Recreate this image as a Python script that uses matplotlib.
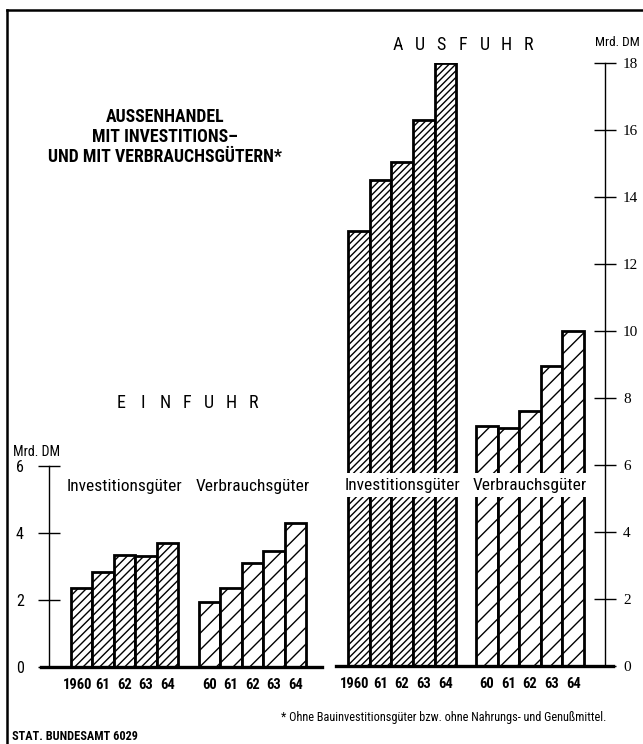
import matplotlib
matplotlib.use("Agg")
import matplotlib.pyplot as plt
from matplotlib import font_manager as fm
from matplotlib.transforms import ScaledTranslation
import numpy as np

# Werte (Mrd. DM)
einfuhr_invest = [2.35, 2.85, 3.35, 3.3, 3.7]
einfuhr_verbrauch = [1.95, 2.35, 3.1, 3.45, 4.3]
ausfuhr_invest = [13.0, 14.5, 15.05, 16.3, 18.0]
ausfuhr_verbrauch = [7.15, 7.1, 7.6, 8.95, 10.0]

jahre_invest = ["1960", "61", "62", "63", "64"]
jahre_verbrauch = ["60", "61", "62", "63", "64"]
ticks_einfuhr = [0, 2, 4, 6]
ticks_ausfuhr = [0, 2, 4, 6, 8, 10, 12, 14, 16, 18]

# Schmale Schrift suchen, falls vorhanden
names = {f.name for f in fm.fontManager.ttflist}
narrow = next((n for n in ["Liberation Sans Narrow", "Roboto Condensed",
                           "Open Sans Condensed"] if n in names), "DejaVu Sans")
plt.rcParams["font.family"] = narrow
plt.rcParams["hatch.linewidth"] = 1.0

fig = plt.figure(figsize=(6.43, 7.44), dpi=100)
W, H = 643, 744


def box(x0, x1, y0, y1):
    # Pixelkoordinaten -> Figurenanteile
    return [x0 / W, 1 - y1 / H, (x1 - x0) / W, (y1 - y0) / H]


def setup(ax, ymax, spine_x, side):
    ax.set_ylim(0, ymax)
    for s in ["top", "left", "right"]:
        ax.spines[s].set_visible(False)
    ax.spines["bottom"].set_linewidth(2.4)
    ax.spines[side].set_visible(True)
    ax.spines[side].set_position(("data", spine_x))
    ax.spines[side].set_linewidth(1.0)
    ax.patch.set_alpha(0)


def bars(ax, start, vals, hatch, labels):
    x = start + 0.5 + np.arange(len(vals))
    ax.bar(x, vals, width=1.0, color="white", edgecolor="black",
           linewidth=2.0, hatch=hatch, zorder=2)
    return x, labels


def year_labels(ax, xs, labels):
    ax.set_xticks(xs)
    ax.set_xticklabels(labels, fontsize=10.5, fontweight="bold")
    ax.tick_params(axis="x", length=0, pad=8)
    # "1960" etwas nach links ruecken, wie in der Vorlage
    first = ax.get_xticklabels()[0]
    first.set_transform(first.get_transform() +
                        ScaledTranslation(-4 / 100, 0, fig.dpi_scale_trans))


def spaced(word, x0, x1, y, size=13):
    # Buchstaben gleichmaessig gesperrt setzen
    xs = np.linspace(x0, x1, len(word))
    for xc, ch in zip(xs, word):
        fig.text(xc / W, 1 - y / H, ch, ha="center", va="center", fontsize=size)


# ---- EINFUHR ----
axL = fig.add_axes(box(41, 322, 466, 667))
axL.set_xlim(0, 13.13)
setup(axL, 6, 0.37, "left")
x1, l1 = bars(axL, 1.4, einfuhr_invest, "////", jahre_invest)
x2, l2 = bars(axL, 7.38, einfuhr_verbrauch, "//", jahre_verbrauch)
year_labels(axL, list(x1) + list(x2), l1 + l2)
axL.set_yticks(ticks_einfuhr)
axL.tick_params(axis="y", direction="inout", length=16, width=1.0,
                labelsize=11.5, pad=10)
axL.text(x1.mean(), 5.4, "Investitionsgüter", ha="center", va="center",
         fontsize=12.5)
axL.text(x2.mean(), 5.4, "Verbrauchsgüter", ha="center", va="center",
         fontsize=12.5)

# ---- AUSFUHR ----
axR = fig.add_axes(box(336, 613, 63, 666))
axR.set_xlim(0, 12.82)
setup(axR, 18, 12.45, "right")
axR.yaxis.tick_right()
x3, l3 = bars(axR, 0.56, ausfuhr_invest, "/////", jahre_invest)
x4, l4 = bars(axR, 6.48, ausfuhr_verbrauch, "//", jahre_verbrauch)
year_labels(axR, list(x3) + list(x4), l3 + l4)
axR.set_yticks(ticks_ausfuhr)
axR.tick_params(axis="y", direction="inout", length=16, width=1.0,
                labelsize=11, pad=5)
for yl in axR.get_yticklabels():
    yl.set_family("Liberation Serif")
for xc, lab in [(x3.mean(), "Investitionsgüter"), (x4.mean(), "Verbrauchsgüter")]:
    axR.text(xc, 5.4, lab, ha="center", va="center", fontsize=12.5, zorder=5,
             bbox=dict(boxstyle="square,pad=0.25", fc="white", ec="none"))

# ---- Texte ----
fig.text(165 / W, 1 - 137 / H,
         "AUSSENHANDEL\nMIT INVESTITIONS–\nUND MIT VERBRAUCHSGÜTERN*",
         ha="center", va="center", fontsize=12.8, fontweight="bold",
         linespacing=1.15)
spaced("AUSFUHR", 398, 528, 45)
spaced("EINFUHR", 121, 253, 403)
fig.text(37 / W, 1 - 452 / H, "Mrd. DM", ha="center", va="center", fontsize=10)
fig.text(617 / W, 1 - 43 / H, "Mrd. DM", ha="center", va="center", fontsize=9.5)
fig.text(606 / W, 1 - 718 / H,
         "* Ohne Bauinvestitionsgüter bzw. ohne Nahrungs- und Genußmittel.",
         ha="right", va="center", fontsize=8.8)
fig.text(12 / W, 1 - 736 / H, "STAT. BUNDESAMT 6029", ha="left", va="center",
         fontsize=8.8, fontweight="bold")

# Rahmen oben und links
fig.add_artist(plt.Line2D([7 / W, 1], [1 - 10 / H] * 2, color="black", lw=1.8))
fig.add_artist(plt.Line2D([7 / W] * 2, [0, 1 - 10 / H], color="black", lw=1.8))

fig.savefig("out.png", dpi=100)
